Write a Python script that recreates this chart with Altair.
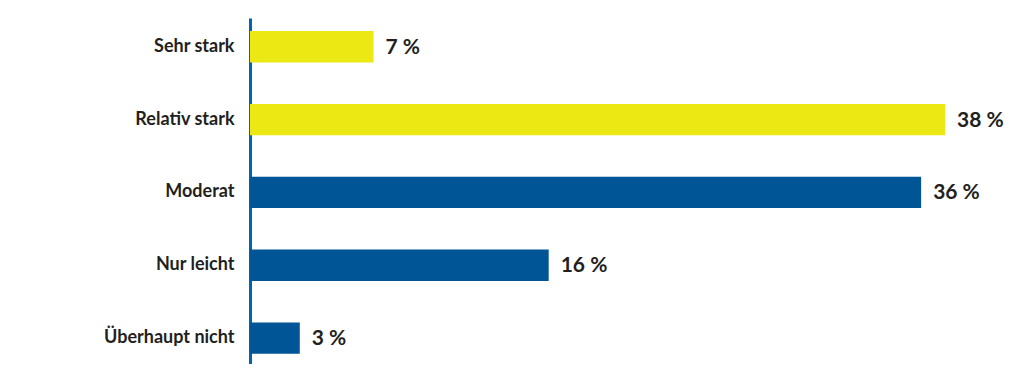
import altair as alt
import pandas as pd

categories = ["Sehr stark", "Relativ stark", "Moderat", "Nur leicht", "Überhaupt nicht"]
values = [6.7, 37.7, 36.4, 16.2, 2.7]
groups = ["stark", "stark", "andere", "andere", "andere"]
labels = ["7 %", "38 %", "36 %", "16 %", "3 %"]

df = pd.DataFrame({"cat": categories, "val": values, "grp": groups, "lab": labels})

y = alt.Y("cat:N", sort=categories, title=None,
          scale=alt.Scale(paddingInner=0.57, paddingOuter=0.16, align=0.56),
          axis=alt.Axis(domainColor="#0064b0", domainWidth=3, ticks=False,
                        labelFont="Lato", labelFontWeight="bold", labelFontSize=18,
                        labelColor="#231f20", labelPadding=16,
                        minExtent=242, maxExtent=242, labelLimit=300))

x = alt.X("val:Q", title=None, axis=None, scale=alt.Scale(domain=[0, 41.6], nice=False))

bars = alt.Chart(df).mark_bar().encode(
    x=x, y=y,
    color=alt.Color("grp:N", legend=None,
                    scale=alt.Scale(domain=["stark", "andere"], range=["#ebe813", "#005596"]))
)

text = alt.Chart(df).mark_text(align="left", baseline="middle", dx=12, dy=1,
                               font="Lato", fontWeight="bold", fontSize=21,
                               color="#231f20").encode(x=x, y=y, text="lab:N")

chart = (bars + text).properties(
    width=767, height=346,
    padding={"left": 0, "top": 10, "right": 0, "bottom": 0}
).configure_view(stroke=None)

chart.save("out.html", embed_options={"renderer": "svg", "actions": False})
